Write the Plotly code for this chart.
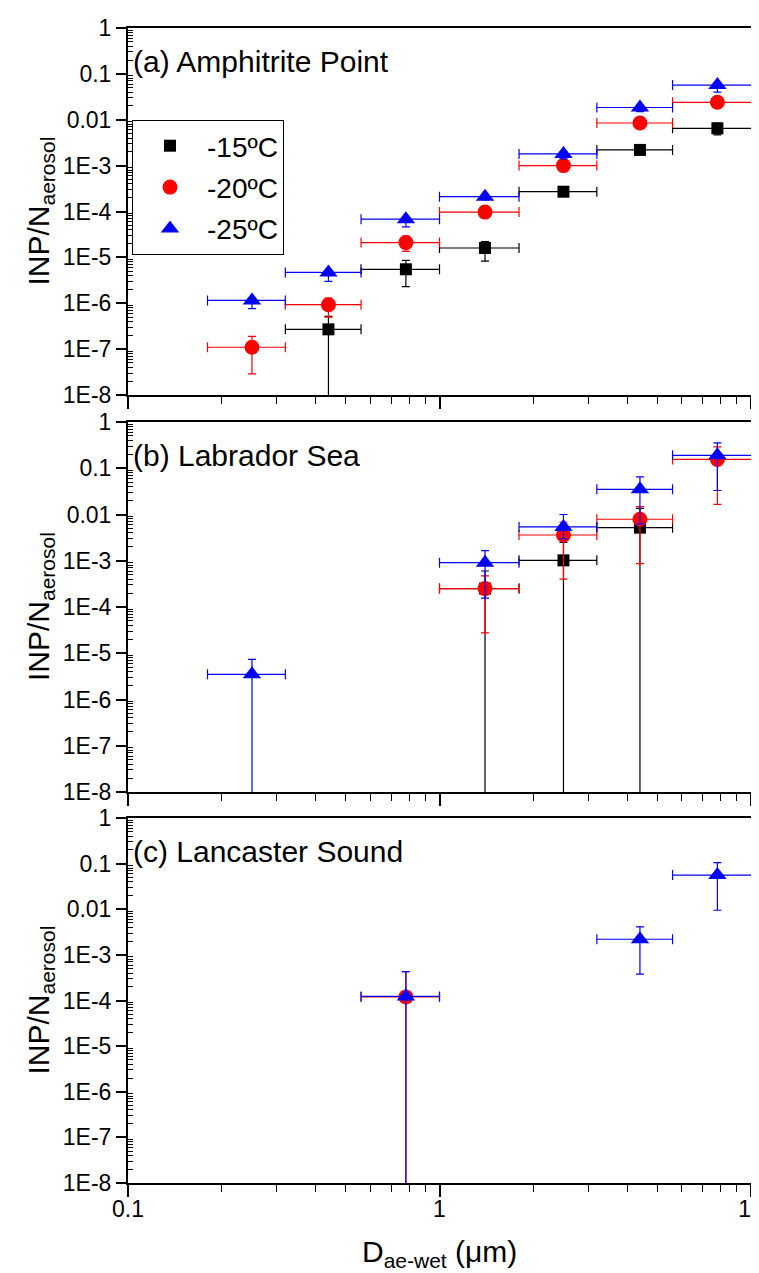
import plotly.graph_objects as go

# ---------------- data ----------------
D_CENTER = [0.25, 0.44, 0.78, 1.4, 2.5, 4.4, 7.8]      # aerodynamic wet diameter (um)
D_LOW = [0.18, 0.32, 0.56, 1.0, 1.8, 3.2, 5.6]          # stage lower cut
D_HIGH = [0.32, 0.56, 1.0, 1.8, 3.2, 5.6, 10.6]         # stage upper cut

TEMPS = ["-15ºC", "-20ºC", "-25ºC"]
BOTTOM = 1e-12   # lower limit reading that falls below the axis (bar runs off the plot)

# (a) Amphitrite Point
A_15 = [None, 2.7e-7, 5.5e-6, 1.6e-5, 2.7e-4, 2.2e-3, 6.5e-3]
A_15_HI = [None, 5.2e-7, 8.6e-6, 2.2e-5, 3.0e-4, 2.5e-3, 8.4e-3]
A_15_LO = [None, BOTTOM, 2.3e-6, 8.3e-6, 2.4e-4, 1.9e-3, 4.7e-3]
A_20 = [1.1e-7, 9.3e-7, 2.1e-5, 9.7e-5, 1.0e-3, 8.5e-3, 0.024]
A_20_HI = [1.9e-7, 1.3e-6, 2.9e-5, 1.1e-4, 1.15e-3, 9.5e-3, 0.027]
A_20_LO = [2.9e-8, 5.0e-7, 1.35e-5, 8.5e-5, 0.85e-3, 7.5e-3, 0.021]
A_25 = [1.15e-6, 4.7e-6, 6.8e-5, 2.1e-4, 1.8e-3, 0.0185, 0.057]
A_25_HI = [1.3e-6, 5.3e-6, 7.5e-5, 2.3e-4, 2.0e-3, 0.020, 0.062]
A_25_LO = [7.6e-7, 3.0e-6, 4.6e-5, 1.8e-4, 1.4e-3, 0.015, 0.040]

# (b) Labrador Sea
B_15 = [None, None, None, 2.5e-4, 1.02e-3, 5.2e-3, None]
B_15_HI = [None, None, None, 6.0e-4, 2.5e-3, 0.0135, None]
B_15_LO = [None, None, None, BOTTOM, BOTTOM, BOTTOM, None]
B_20 = [None, None, None, 2.5e-4, 3.6e-3, 7.9e-3, 0.155]
B_20_HI = [None, None, None, 4.7e-4, 6.8e-3, 0.0148, 0.29]
B_20_LO = [None, None, None, 2.75e-5, 4.0e-4, 8.7e-4, 0.0166]
B_25 = [3.5e-6, None, None, 9.1e-4, 5.4e-3, 0.035, 0.19]
B_25_HI = [7.4e-6, None, None, 1.66e-3, 0.010, 0.065, 0.355]
B_25_LO = [BOTTOM, None, None, 1.55e-4, 3.0e-3, 6.3e-3, 0.033]

# (c) Lancaster Sound
C_20 = [None, None, 1.2e-4, None, None, None, None]
C_20_HI = [None, None, 4.3e-4, None, None, None, None]
C_20_LO = [None, None, BOTTOM, None, None, None, None]
C_25 = [None, None, 1.23e-4, None, None, 2.2e-3, 0.056]
C_25_HI = [None, None, 4.3e-4, None, None, 4.1e-3, 0.105]
C_25_LO = [None, None, BOTTOM, None, None, 3.8e-4, 9.5e-3]

Y_TICKS = [1e-8, 1e-7, 1e-6, 1e-5, 1e-4, 1e-3, 1e-2, 1e-1, 1]
Y_TICK_TEXT = ["1E-8", "1E-7", "1E-6", "1E-5", "1E-4", "1E-3", "0.01", "0.1", "1"]
X_TICKS = [0.1, 1, 10]
X_TICK_TEXT = ["0.1", "1", "10"]

PANEL_TITLES = ["(a) Amphitrite Point", "(b) Labrador Sea", "(c) Lancaster Sound"]

# ---------------- style ----------------
FONT = "Liberation Sans, Arial, sans-serif"
W, H = 759, 1273
L, R = 120, 743
PANELS_PX = [(20, 387), (414, 784), (810, 1175)]   # top, bottom pixel rows

STYLES = {
    "-15ºC": dict(color="#000000", symbol="square", size=12),
    "-20ºC": dict(color="#FF0000", symbol="circle", size=15),
    "-25ºC": dict(color="#0000FF", symbol="triangle-up", size=16),
}

panels = [
    [("-15ºC", A_15, A_15_HI, A_15_LO), ("-20ºC", A_20, A_20_HI, A_20_LO), ("-25ºC", A_25, A_25_HI, A_25_LO)],
    [("-15ºC", B_15, B_15_HI, B_15_LO), ("-20ºC", B_20, B_20_HI, B_20_LO), ("-25ºC", B_25, B_25_HI, B_25_LO)],
    [("-20ºC", C_20, C_20_HI, C_20_LO), ("-25ºC", C_25, C_25_HI, C_25_LO)],
]

fig = go.Figure()

for p, series in enumerate(panels):
    sfx = "" if p == 0 else str(p + 1)
    for name, ys, his, los in series:
        st = STYLES[name]
        idx = [i for i, v in enumerate(ys) if v is not None]
        xs = [D_CENTER[i] for i in idx]
        yv = [ys[i] for i in idx]
        fig.add_trace(go.Scatter(
            x=xs, y=yv, mode="markers", name=name,
            legendgroup=name, showlegend=(p == 0),
            xaxis="x" + sfx, yaxis="y" + sfx,
            marker=dict(symbol=st["symbol"], size=st["size"], color=st["color"], line=dict(width=0)),
            error_x=dict(type="data", symmetric=False,
                         array=[D_HIGH[i] - D_CENTER[i] for i in idx],
                         arrayminus=[D_CENTER[i] - D_LOW[i] for i in idx],
                         color=st["color"], thickness=1.2, width=5),
            error_y=dict(type="data", symmetric=False,
                         array=[his[i] - ys[i] for i in idx],
                         arrayminus=[ys[i] - los[i] for i in idx],
                         color=st["color"], thickness=1.2, width=4),
        ))

x_minor = [m * d for d in (0.1, 1) for m in range(2, 10)]
y_minor = [m * 10.0 ** e for e in range(-8, 0) for m in range(2, 10)]

layout = dict(
    width=W, height=H,
    margin=dict(l=L, r=W - R, t=0, b=0, autoexpand=False),
    paper_bgcolor="white", plot_bgcolor="white",
    font=dict(family=FONT, size=23, color="black"),
    showlegend=True,
    legend=dict(
        x=(124 - L) / (R - L), y=1 - 112 / H, xanchor="left", yanchor="top",
        bgcolor="white", bordercolor="black", borderwidth=1,
        font=dict(family=FONT, size=28, color="black"),
        traceorder="grouped", tracegroupgap=2, itemwidth=64,
    ),
)

annotations = []
for p in range(3):
    sfx = "" if p == 0 else str(p + 1)
    top, bot = PANELS_PX[p]
    layout["xaxis" + sfx] = dict(
        type="log", range=[-1, 1], domain=[0, 1],
        anchor="y" + sfx,
        tickmode="array", tickvals=X_TICKS, ticktext=X_TICK_TEXT,
        showticklabels=(p == 2), ticklabelstandoff=-8,
        ticks="outside", ticklen=12, tickwidth=1.5, tickcolor="black",
        minor=dict(tickmode="array", tickvals=x_minor, ticks="outside", ticklen=7,
                   tickwidth=1.2, tickcolor="black", showgrid=False),
        showline=True, linecolor="black", linewidth=2, mirror=True,
        showgrid=False, zeroline=False,
        tickfont=dict(family=FONT, size=23),
    )
    layout["yaxis" + sfx] = dict(
        type="log", range=[-8, 0], domain=[1 - bot / H, 1 - top / H],
        anchor="x" + sfx,
        tickmode="array", tickvals=Y_TICKS, ticktext=Y_TICK_TEXT,
        ticks="outside", ticklen=10, tickwidth=1.5, tickcolor="black",
        minor=dict(tickmode="array", tickvals=y_minor, ticks="inside", ticklen=5,
                   tickwidth=1.2, tickcolor="black", showgrid=False),
        showline=True, linecolor="black", linewidth=2, mirror=True,
        showgrid=False, zeroline=False,
        tickfont=dict(family=FONT, size=23),
    )
    annotations.append(dict(
        text=PANEL_TITLES[p], xref="x" + sfx + " domain", yref="y" + sfx + " domain",
        x=0, y=1, xanchor="left", yanchor="top", xshift=3, yshift=-15,
        showarrow=False, font=dict(family=FONT, size=30, color="black"),
    ))
    annotations.append(dict(
        text="INP/N<sub>aerosol</sub>", xref="paper", yref="y" + sfx + " domain",
        x=(32 - L) / (R - L), y=0.5, xanchor="center", yanchor="middle",
        textangle=-90, showarrow=False, font=dict(family=FONT, size=30, color="black"),
    ))

annotations.append(dict(
    text="D<sub>ae-wet</sub> (μm)", xref="paper", yref="paper",
    x=0.5, y=1 - 1245 / H, xanchor="center", yanchor="middle",
    showarrow=False, font=dict(family=FONT, size=30, color="black"),
))
layout["annotations"] = annotations

fig.update_layout(**layout)
fig.write_html("out.html")
